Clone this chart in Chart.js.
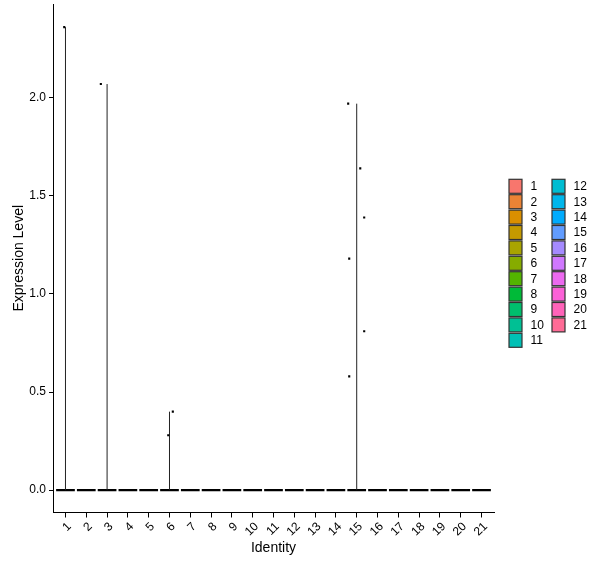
<!DOCTYPE html>
<html><head><meta charset="utf-8">
<script src="https://cdn.jsdelivr.net/npm/chart.js@4.4.0/dist/chart.umd.min.js"></script>
<style>html,body{margin:0;padding:0;background:#fff;}#wrap{width:600px;height:568px;position:relative;}</style>
</head><body><div id="wrap"><canvas id="c"></canvas></div>
<script>
// ---- data ----
const categories = ['1','2','3','4','5','6','7','8','9','10','11','12','13','14','15','16','17','18','19','20','21'];
const pointCategory = [1, 3, 6, 6, 15, 15, 15, 15, 15, 15];
const pointValue    = [2.36, 2.07, 0.28, 0.40, 1.97, 1.64, 1.39, 1.18, 0.81, 0.58];
const pointJitter   = [-0.06, -0.30, -0.06, 0.16, -0.41, 0.17, 0.36, -0.36, 0.36, -0.36];
const yTicks = [0, 0.5, 1, 1.5, 2];
const yMin = -0.114, yMax = 2.478;

// ---- styles ----
const FONT = "'Liberation Sans', Arial, sans-serif";
function hcl(h, c, l) {
  const WU = 0.1978398, WV = 0.4683363, WY = 100;
  const hr = h * Math.PI / 180;
  const U = c * Math.cos(hr), V = c * Math.sin(hr);
  const Y = WY * (l > 7.999592 ? Math.pow((l + 16) / 116, 3) : l / 903.3);
  const u = U / (13 * l) + WU, v = V / (13 * l) + WV;
  const X = 9 * Y * u / (4 * v);
  const Z = -X / 3 - 5 * Y + 3 * Y / v;
  const g = t => { t = t / WY; t = t > 0.00304 ? 1.055 * Math.pow(t, 1 / 2.4) - 0.055 : 12.92 * t; return Math.round(255 * Math.min(1, Math.max(0, t))); };
  return `rgb(${g(3.240479*X - 1.537150*Y - 0.498535*Z)},${g(-0.969256*X + 1.875992*Y + 0.041556*Z)},${g(0.055648*X - 0.204043*Y + 1.057311*Z)})`;
}
const colors = categories.map((c, i) => hcl(15 + i * 360 / categories.length, 100, 65));

// ---- derived mark data (from arrays above) ----
const halfWidth = 0.45;
const zeroSegs = [];
categories.forEach((c, i) => {
  zeroSegs.push({x: i + 1 - halfWidth, y: 0}, {x: i + 1 + halfWidth, y: 0}, {x: i + 1, y: null});
});
const catMax = {};
pointCategory.forEach((c, k) => { catMax[c] = Math.max(catMax[c] || 0, pointValue[k]); });
const vertSegs = [];
Object.keys(catMax).forEach(c => { vertSegs.push({x: +c, y: 0}, {x: +c, y: catMax[c]}, {x: +c, y: null}); });
const pts = pointCategory.map((c, k) => ({x: c + pointJitter[k], y: pointValue[k]}));

const legendPlugin = {
  id: 'ggLegend',
  afterDraw(chart) {
    const ctx = chart.ctx;
    ctx.save();
    const rows = Math.ceil(categories.length / 2);
    const colX = [509, 552], y0 = 186.3, dy = 15.4;
    ctx.font = '12px ' + FONT;
    ctx.textBaseline = 'middle';
    ctx.textAlign = 'left';
    categories.forEach((c, i) => {
      const col = Math.floor(i / rows), row = i % rows;
      const x = colX[col], yc = y0 + row * dy;
      ctx.fillStyle = colors[i];
      ctx.fillRect(x, yc - 7, 13, 14);
      ctx.strokeStyle = '#333';
      ctx.lineWidth = 1.2;
      ctx.strokeRect(x, yc - 7, 13, 14);
      ctx.fillStyle = '#000';
      ctx.fillText(c, x + 21.5, yc + 0.5);
    });
    ctx.restore();
  }
};

new Chart(document.getElementById('c'), {
  type: 'scatter',
  data: {
    datasets: [
      {data: pts, pointStyle: 'rect', pointRadius: 1.5, pointBorderWidth: 0, backgroundColor: '#000', borderColor: '#000', showLine: false},
      {data: vertSegs, showLine: true, spanGaps: false, borderColor: '#222', borderWidth: 1, pointRadius: 0},
      {data: zeroSegs, showLine: true, spanGaps: false, borderColor: '#000', borderWidth: 2.2, pointRadius: 0}
    ]
  },
  options: {
    responsive: true, maintainAspectRatio: false, animation: false,
    layout: {padding: {top: 3.3, right: 106, left: 0, bottom: 0}},
    plugins: {legend: {display: false}, tooltip: {enabled: false}},
    scales: {
      x: {
        type: 'linear', min: 0.4, max: 21.6,
        afterBuildTicks: s => { s.ticks = categories.map((c, i) => ({value: i + 1})); },
        afterFit: s => { s.height = 55.5; s.paddingLeft = 0; s.paddingRight = 0; },
        ticks: {autoSkip: false, minRotation: 45, maxRotation: 45, color: '#000', padding: 2, labelOffset: 4,
                font: {family: FONT, size: 12}, callback: v => categories[Math.round(v) - 1]},
        grid: {display: true, drawOnChartArea: false, drawTicks: true, tickLength: 5, color: '#000', tickWidth: 1},
        border: {display: true, color: '#000', width: 1},
        title: {display: true, text: 'Identity', color: '#000', font: {family: FONT, size: 14}, padding: {top: 0, bottom: 11.6}}
      },
      y: {
        type: 'linear', min: yMin, max: yMax,
        afterBuildTicks: s => { s.ticks = yTicks.map(v => ({value: v})); },
        afterFit: s => { s.width = 53; s.paddingTop = 0; s.paddingBottom = 0; },
        ticks: {color: '#000', padding: 3, font: {family: FONT, size: 12}, callback: v => Number(v).toFixed(1)},
        grid: {display: true, drawOnChartArea: false, drawTicks: true, tickLength: 4, color: '#000', tickWidth: 1},
        border: {display: true, color: '#000', width: 1},
        title: {display: true, text: 'Expression Level', color: '#000', font: {family: FONT, size: 14}, padding: {top: 10.6, bottom: 0}}
      }
    }
  },
  plugins: [legendPlugin]
});
</script></body></html>
